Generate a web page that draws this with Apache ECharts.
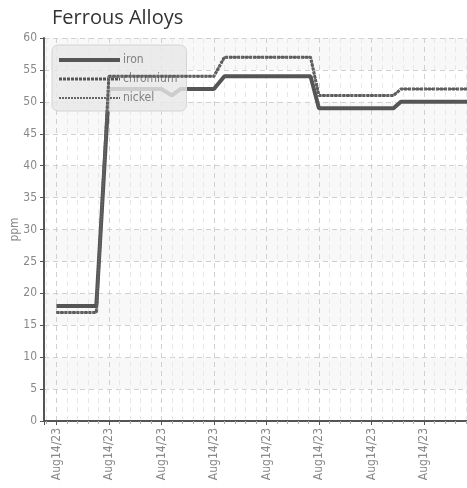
<!DOCTYPE html>
<html>
<head>
<meta charset="utf-8">
<script src="https://cdn.jsdelivr.net/npm/echarts@6/dist/echarts.min.js"></script>
<style>
html,body{margin:0;padding:0;background:#fff;}
#chart{width:467px;height:488px;}
</style>
</head>
<body>
<div id="chart"></div>
<script>
// x positions are in time steps (one minor tick = one step, a labelled tick every 5 steps)
const tickLabel = 'Aug14/23';
const ironX = [0, 3.8, 5, 10, 11, 11.8, 15, 16, 24.2, 25, 32.1, 32.8, 40];
const ironY = [18, 18, 52, 52, 51, 52, 52, 54, 54, 49, 49, 50, 50];
const chromiumX = [0, 3.8, 5, 15, 16, 24.2, 25, 32.1, 32.8, 40];
const chromiumY = [17, 17, 54, 54, 57, 57, 51, 51, 52, 52];
const nickelX = [0, 3.8, 5, 15, 16, 24.2, 25, 32.1, 32.8, 40];
const nickelY = [17, 17, 54, 54, 57, 57, 51, 51, 52, 52];

const pairs = (xs, ys) => xs.map((x, i) => [x, ys[i]]);
const narrow = "'Liberation Sans Narrow', 'DejaVu Sans Condensed', sans-serif";

const chart = echarts.init(document.getElementById('chart'), null, {renderer: 'canvas'});
chart.setOption({
  animation: false,
  backgroundColor: '#fff',
  title: {
    text: 'Ferrous Alloys',
    left: 47, top: 3,
    textStyle: {fontFamily: "'Open Sans', sans-serif", fontSize: 20, fontWeight: 'normal', color: '#333'}
  },
  legend: {
    orient: 'vertical',
    left: 52, top: 45,
    padding: [9, 9, 7, 5],
    itemWidth: 61, itemHeight: 10, itemGap: 7,
    backgroundColor: 'rgba(232,232,232,0.82)',
    borderColor: '#d4d4d4', borderWidth: 1, borderRadius: 6,
    itemStyle: {opacity: 0},
    textStyle: {fontFamily: narrow, fontSize: 12, color: '#808080', padding: [0, 0, 0, -2]},
    data: [
      {name: 'iron', lineStyle: {width: 4, color: '#555'}},
      {name: 'chromium', lineStyle: {width: 3, color: '#555', type: [3, 1]}},
      {name: 'nickel', lineStyle: {width: 2, color: '#666', type: [2, 1]}}
    ]
  },
  grid: {left: 44, right: 0, top: 38, bottom: 67, containLabel: false, outerBoundsMode: 'none'},
  xAxis: {
    type: 'value',
    min: -1.18, max: 39.1,
    splitNumber: 8,
    axisLine: {show: true, onZero: false, lineStyle: {color: '#555', width: 2}},
    axisTick: {show: true, length: 4, lineStyle: {color: '#555'}},
    minorTick: {show: true, splitNumber: 5, length: 3, lineStyle: {color: '#aaa'}},
    axisLabel: {
      rotate: 90, fontFamily: narrow, fontSize: 12, color: '#888', margin: 7,
      formatter: v => (v >= 0 && Math.abs(v / 5 - Math.round(v / 5)) < 1e-6 ? tickLabel : '')
    },
    splitLine: {show: true, lineStyle: {color: '#d0d0d0', type: [5, 4]}},
    minorSplitLine: {show: true, lineStyle: {color: '#e8e8e8', type: [5, 4]}}
  },
  yAxis: {
    type: 'value',
    min: 0, max: 60, interval: 5,
    name: 'ppm', nameLocation: 'middle', nameGap: 23, nameRotate: 90, nameMoveOverlap: false,
    nameTextStyle: {fontFamily: narrow, fontSize: 12, color: '#888'},
    axisLine: {show: true, onZero: false, lineStyle: {color: '#555', width: 2}},
    axisTick: {show: true, length: 4, lineStyle: {color: '#555'}},
    axisLabel: {fontFamily: narrow, fontSize: 12, color: '#888', margin: 7},
    splitLine: {show: true, lineStyle: {color: '#d0d0d0', type: [5, 4]}},
    splitArea: {show: true, areaStyle: {color: ['#ffffff', '#f8f8f8']}}
  },
  series: [
    {name: 'iron', type: 'line', symbol: 'none', data: pairs(ironX, ironY),
     lineStyle: {color: '#555', width: 4}, itemStyle: {color: '#555'}, z: 3},
    {name: 'chromium', type: 'line', symbol: 'none', data: pairs(chromiumX, chromiumY),
     lineStyle: {color: '#555', width: 3, type: [3, 1]}, itemStyle: {color: '#555'}, z: 4},
    {name: 'nickel', type: 'line', symbol: 'none', data: pairs(nickelX, nickelY),
     lineStyle: {color: '#666', width: 2, type: [2, 1]}, itemStyle: {color: '#666'}, z: 5}
  ]
});
</script>
</body>
</html>
